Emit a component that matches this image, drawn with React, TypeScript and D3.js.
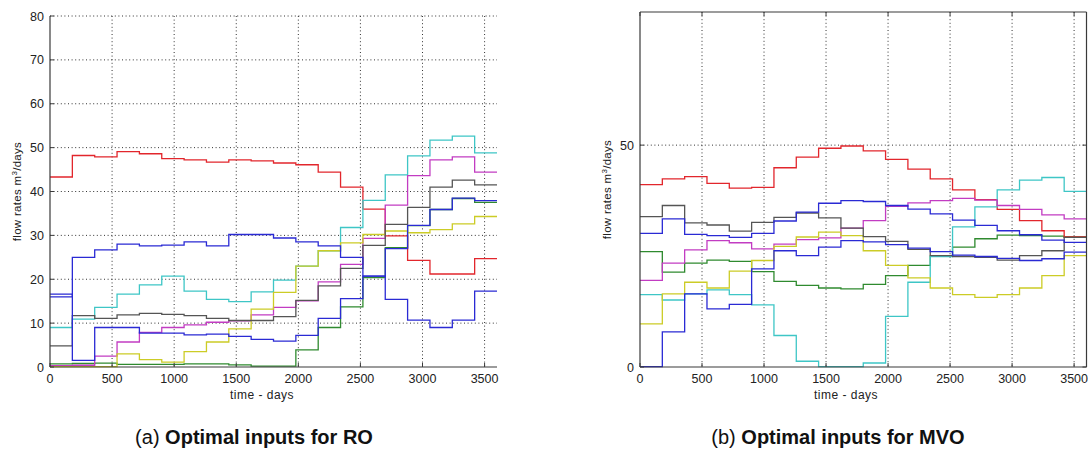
import React from 'react';
import * as d3 from 'd3';

// time grid (control intervals, days)
const TIME = [0, 180, 360, 540, 720, 900, 1080, 1260, 1440, 1620, 1800, 1980, 2160, 2340, 2520, 2700, 2880, 3060, 3240, 3420, 3600];
const X_TICKS = [0, 500, 1000, 1500, 2000, 2500, 3000, 3500];
const Y_TICKS_A = [0, 10, 20, 30, 40, 50, 60, 70, 80];
const Y_TICKS_B = [0, 50];

// (a) Optimal inputs for RO
const RED_A = [43.3, 48.2, 47.9, 49.1, 48.6, 47.5, 47.2, 46.7, 47.2, 47.0, 46.5, 46.1, 44.4, 41.0, 36.0, 29.9, 24.3, 21.2, 21.2, 24.7];
const BLUE1_A = [16.0, 25.0, 26.7, 28.0, 27.6, 27.8, 28.5, 27.6, 30.2, 30.2, 29.4, 28.5, 27.6, 25.0, 20.7, 15.4, 10.7, 9.0, 10.7, 17.3];
const BLUE2_A = [16.6, 1.5, 9.0, 9.0, 7.7, 7.7, 7.3, 7.5, 7.0, 6.3, 5.9, 7.2, 11.1, 15.6, 20.7, 27.0, 32.3, 35.9, 38.5, 37.9];
const CYAN_A = [9.0, 10.9, 13.6, 16.6, 18.7, 20.7, 17.3, 15.4, 14.9, 17.1, 19.8, 23.0, 26.5, 31.8, 38.0, 43.8, 48.1, 51.7, 52.6, 48.8];
const BLACK_A = [4.8, 11.7, 11.1, 11.9, 12.2, 12.0, 11.7, 11.1, 10.6, 10.6, 11.5, 15.2, 18.5, 22.5, 27.7, 32.5, 36.4, 41.0, 42.6, 41.5];
const MAGENTA_A = [0.3, 0.4, 2.5, 5.7, 7.9, 9.0, 9.6, 10.2, 10.5, 11.9, 13.6, 15.1, 19.4, 23.4, 29.3, 36.9, 43.6, 47.2, 47.9, 44.4];
const YELLOW_A = [0.1, 0.1, 0.1, 3.0, 1.7, 1.1, 3.5, 5.7, 8.7, 13.2, 17.0, 23.0, 26.5, 28.3, 30.2, 31.0, 30.6, 31.3, 32.6, 34.3];
const GREEN_A = [0.7, 0.8, 0.9, 0.6, 0.6, 0.6, 0.7, 0.7, 0.5, 0.2, 0.2, 3.9, 9.0, 13.7, 20.4, 27.2, 32.2, 35.9, 38.4, 37.5];

// (b) Optimal inputs for MVO
const RED_B = [41.1, 42.4, 42.9, 41.4, 40.3, 40.5, 44.9, 47.3, 49.3, 49.8, 48.7, 46.8, 44.6, 42.4, 39.9, 37.7, 35.5, 33.0, 30.7, 29.3];
const BLUE1_B = [30.1, 33.4, 29.9, 29.6, 29.2, 30.1, 32.9, 34.9, 36.9, 37.5, 37.3, 36.4, 35.6, 34.5, 33.1, 31.9, 30.7, 29.8, 28.6, 28.1];
const BLACK_B = [33.9, 36.4, 32.5, 32.0, 30.6, 32.6, 33.7, 34.7, 33.6, 31.3, 29.4, 28.3, 26.5, 25.1, 24.9, 24.7, 24.1, 25.1, 26.2, 29.2];
const MAGENTA_B = [19.5, 23.4, 26.4, 28.5, 28.0, 26.6, 27.7, 28.7, 29.1, 31.3, 33.0, 36.2, 37.0, 37.5, 38.0, 37.6, 36.4, 35.5, 34.3, 33.4];
const YELLOW_B = [9.7, 16.5, 19.1, 17.8, 21.6, 24.0, 27.2, 29.3, 30.4, 29.6, 26.2, 22.9, 20.1, 17.8, 16.3, 15.7, 16.3, 17.8, 20.6, 25.1];
const GREEN_B = [26.0, 21.4, 23.4, 24.1, 23.8, 21.5, 19.3, 18.4, 17.8, 17.6, 18.6, 20.6, 22.9, 25.0, 27.0, 28.9, 29.7, 29.6, 29.5, 29.3];
const CYAN_B = [16.3, 15.1, 16.5, 17.4, 16.3, 14.0, 7.1, 1.3, 0.1, 0.1, 0.9, 11.4, 19.1, 24.9, 31.6, 36.1, 39.9, 42.1, 42.7, 39.6];
const BLUE2_B = [0.1, 7.9, 16.5, 13.1, 14.1, 22.1, 26.2, 25.1, 27.0, 28.5, 28.2, 27.6, 26.8, 26.0, 25.2, 24.9, 24.5, 24.0, 24.4, 25.9];

const C = {
  blue: '#2a2ad4',
  green: '#2f8a2f',
  red: '#e2262c',
  cyan: '#3ec6c6',
  magenta: '#c23cc2',
  yellow: '#cccc26',
  black: '#555555',
};

const SERIES_A = [
  { c: C.green, v: GREEN_A },
  { c: C.red, v: RED_A },
  { c: C.cyan, v: CYAN_A },
  { c: C.magenta, v: MAGENTA_A },
  { c: C.yellow, v: YELLOW_A },
  { c: C.black, v: BLACK_A },
  { c: C.blue, v: BLUE2_A },
  { c: C.blue, v: BLUE1_A },
];
const SERIES_B = [
  { c: C.green, v: GREEN_B },
  { c: C.red, v: RED_B },
  { c: C.cyan, v: CYAN_B },
  { c: C.magenta, v: MAGENTA_B },
  { c: C.yellow, v: YELLOW_B },
  { c: C.black, v: BLACK_B },
  { c: C.blue, v: BLUE2_B },
  { c: C.blue, v: BLUE1_B },
];

const FONT = '"Liberation Sans", Arial, Helvetica, sans-serif';
const AXIS = '#3a3a3a';
const GRID = '#333333';

type PanelProps = {
  left: number; right: number; top: number; bottom: number;
  yTicks: number[]; yGrid: number[]; box: boolean;
  series: { c: string; v: number[] }[];
  yLabelX: number; xLabelX: number; titleX: number;
  tag: string; title: string;
};

function Panel(p: PanelProps) {
  const x = d3.scaleLinear().domain([0, 3600]).range([p.left, p.right]);
  const y = d3.scaleLinear().domain([0, 80]).range([p.bottom, p.top]);
  const line = d3.line<[number, number]>()
    .x((d) => x(d[0]))
    .y((d) => y(d[1]))
    .curve(d3.curveStepAfter);
  const tl = 4;
  const midY = (p.top + p.bottom) / 2;
  return (
    <g>
      {/* grid */}
      {X_TICKS.filter((t) => t > 0).map((t) => (
        <line key={'gx' + t} x1={x(t)} x2={x(t)} y1={p.top} y2={p.bottom}
          stroke={GRID} strokeWidth={1} strokeDasharray="1 2.6" />
      ))}
      {p.yGrid.map((t) => (
        <line key={'gy' + t} x1={p.left} x2={p.right} y1={y(t)} y2={y(t)}
          stroke={GRID} strokeWidth={1} strokeDasharray="1 2.6" />
      ))}
      {/* series */}
      {p.series.map((s, i) => {
        const pts: [number, number][] = s.v.map((v, k) => [TIME[k], v] as [number, number]);
        pts.push([TIME[TIME.length - 1], s.v[s.v.length - 1]]);
        return <path key={i} d={line(pts) || ''} fill="none" stroke={s.c} strokeWidth={1.3} />;
      })}
      {/* axes */}
      <line x1={p.left} x2={p.left} y1={p.top} y2={p.bottom} stroke={AXIS} strokeWidth={1.2} />
      <line x1={p.left} x2={p.right} y1={p.bottom} y2={p.bottom} stroke={AXIS} strokeWidth={1.2} />
      {p.box && (
        <g>
          <line x1={p.left} x2={p.right} y1={p.top} y2={p.top} stroke={AXIS} strokeWidth={1.2} />
          <line x1={p.right} x2={p.right} y1={p.top} y2={p.bottom} stroke={AXIS} strokeWidth={1.2} />
        </g>
      )}
      {/* x ticks */}
      {X_TICKS.map((t) => (
        <g key={'xt' + t}>
          <line x1={x(t)} x2={x(t)} y1={p.bottom} y2={p.bottom - tl} stroke={AXIS} />
          {p.box && <line x1={x(t)} x2={x(t)} y1={p.top} y2={p.top + tl} stroke={AXIS} />}
          <text x={x(t)} y={p.bottom + 16} textAnchor="middle" fontSize={12.5} fill="#222" fontFamily={FONT}>{t}</text>
        </g>
      ))}
      {/* y ticks */}
      {p.yTicks.map((t) => (
        <g key={'yt' + t}>
          <line x1={p.left} x2={p.left + tl} y1={y(t)} y2={y(t)} stroke={AXIS} />
          {p.box && <line x1={p.right} x2={p.right - tl} y1={y(t)} y2={y(t)} stroke={AXIS} />}
          <text x={p.left - 6} y={y(t) + 4.5} textAnchor="end" fontSize={12.5} fill="#222" fontFamily={FONT}>{t}</text>
        </g>
      ))}
      {/* labels */}
      <text x={p.xLabelX} y={p.bottom + 32} textAnchor="middle" fontSize={12} letterSpacing={0.5} fill="#222" fontFamily={FONT}>time - days</text>
      <text transform={`translate(${p.yLabelX},${midY}) rotate(-90)`} textAnchor="middle" fontSize={11.5} letterSpacing={0.3} fill="#222" fontFamily={FONT}>
        <tspan>flow rates m</tspan>
        <tspan dy={-4} fontSize={8}>3</tspan>
        <tspan dy={4}>/days</tspan>
      </text>
      <text x={p.titleX} y={444} textAnchor="middle" fontSize={20} fill="#111" fontFamily={FONT}>
        <tspan>{p.tag} </tspan>
        <tspan fontWeight="bold">{p.title}</tspan>
      </text>
    </g>
  );
}

export default function App() {
  return (
    <svg width={1088} height={453} viewBox="0 0 1088 453"
      style={{ position: 'absolute', left: 0, top: 0, background: '#fff' }}>
      <rect x={0} y={0} width={1088} height={453} fill="#fff" />
      <Panel left={50} right={497} top={16} bottom={367}
        yTicks={Y_TICKS_A} yGrid={Y_TICKS_A.filter((t) => t > 0)} box={false}
        series={SERIES_A} yLabelX={21} xLabelX={262} titleX={254}
        tag="(a)" title="Optimal inputs for RO" />
      <Panel left={640} right={1086.5} top={12} bottom={367}
        yTicks={Y_TICKS_B} yGrid={[50]} box={true}
        series={SERIES_B} yLabelX={611} xLabelX={846} titleX={838}
        tag="(b)" title="Optimal inputs for MVO" />
    </svg>
  );
}
